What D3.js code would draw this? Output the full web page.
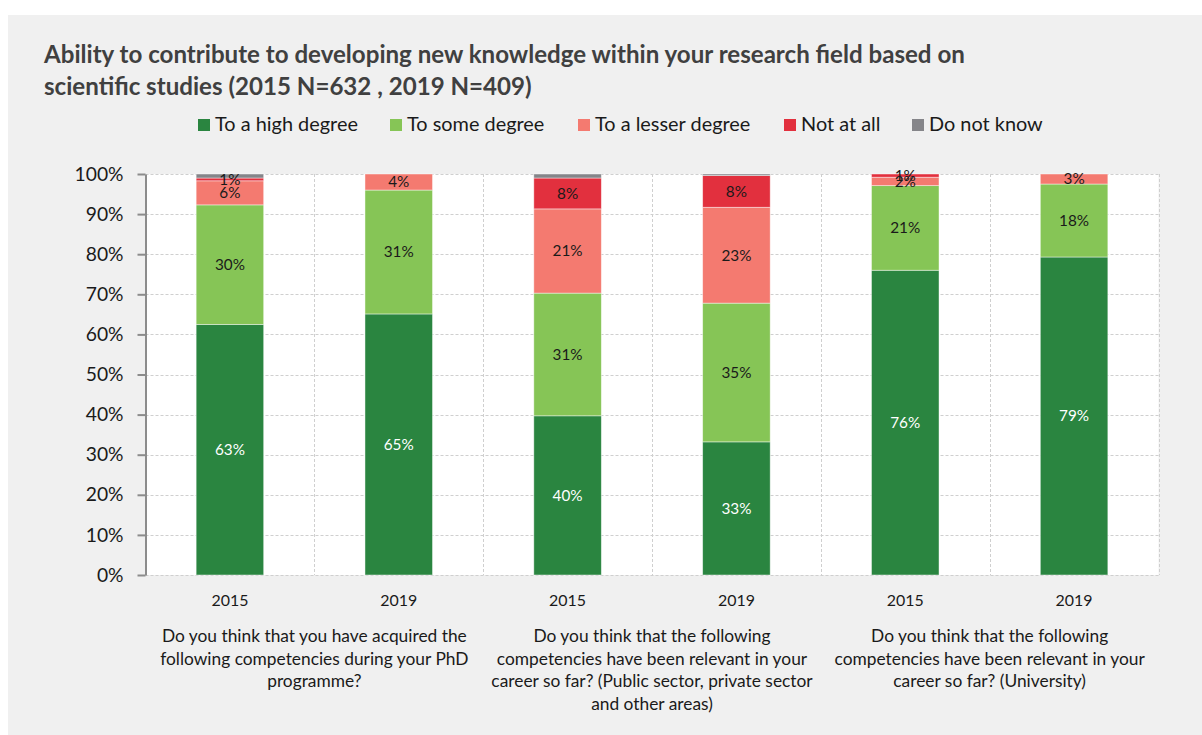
<!DOCTYPE html>
<html>
<head>
<meta charset="utf-8">
<script src="https://cdn.jsdelivr.net/npm/d3@7"></script>
<style>
  html, body { margin: 0; padding: 0; background: #ffffff; }
  svg { display: block; }
  text { font-family: Lato, "Open Sans", sans-serif; }
</style>
</head>
<body>
<svg id="chart" width="1202" height="735"></svg>
<script>
// ---------- DATA ----------
const titleLines = [
  "Ability to contribute to developing new knowledge within your research field based on",
  "scientific studies (2015 N=632 , 2019 N=409)"
];
const categories = ["2015", "2019", "2015", "2019", "2015", "2019"];
const questions = [
  ["Do you think that you have acquired the", "following competencies during your PhD", "programme?"],
  ["Do you think that the following", "competencies have been relevant in your", "career so far? (Public sector, private sector", "and other areas)"],
  ["Do you think that the following", "competencies have been relevant in your", "career so far? (University)"]
];
const seriesNames = ["To a high degree", "To some degree", "To a lesser degree", "Not at all", "Do not know"];
const seriesColors = ["#2a8540", "#86c556", "#f47a70", "#e2303e", "#858589"];

const highDegree   = [62.5, 65.1, 39.7, 33.2, 76.0, 79.3];
const someDegree   = [29.8, 30.9, 30.6, 34.6, 21.1, 18.2];
const lesserDegree = [ 6.0,  4.0, 21.0, 23.9,  2.1,  2.5];
const notAtAll     = [ 0.7,  0.0,  7.7,  7.9,  0.8,  0.0];
const doNotKnow    = [ 1.0,  0.0,  1.0,  0.4,  0.0,  0.0];

const highLabels   = [63, 65, 40, 33, 76, 79];
const someLabels   = [30, 31, 31, 35, 21, 18];
const lesserLabels = [6, 4, 21, 23, 2, 3];
const notLabels    = [1, null, 8, 8, 1, null];
const dkLabels     = [null, null, null, null, null, null];

const yTicks = [0, 10, 20, 30, 40, 50, 60, 70, 80, 90, 100];

// ---------- BUILD ----------
const seriesValues = [highDegree, someDegree, lesserDegree, notAtAll, doNotKnow];
const seriesLabels = [highLabels, someLabels, lesserLabels, notLabels, dkLabels];
const keys = seriesNames;
const rows = categories.map((c, i) => {
  const r = { idx: i };
  keys.forEach((k, s) => r[k] = seriesValues[s][i]);
  return r;
});
const stacked = d3.stack().keys(keys)(rows);

const svg = d3.select("#chart");

function fit(sel, target) {
  // scale font-size so the measured width matches the target width
  const node = sel.node();
  const fs = parseFloat(sel.attr("font-size"));
  const w = node.getComputedTextLength();
  return fs * target / w;
}

// background panel
svg.append("rect").attr("x", 8).attr("y", 15).attr("width", 1194).attr("height", 720).attr("fill", "#f0f0f0");

const plot = { left: 145.5, right: 1158.5, top: 174, bottom: 575 };
const x = d3.scaleBand().domain(d3.range(categories.length)).range([plot.left, plot.right]);
const y = d3.scaleLinear().domain([0, 100]).range([plot.bottom, plot.top]);
const barW = x.bandwidth() * 0.4;

svg.append("rect").attr("x", plot.left).attr("y", plot.top)
  .attr("width", plot.right - plot.left).attr("height", plot.bottom - plot.top).attr("fill", "#ffffff");

// gridlines
const grid = svg.append("g").attr("stroke", "#cfcfcf").attr("stroke-width", 1).attr("stroke-dasharray", "3,2");
grid.selectAll("line.h").data(yTicks).join("line")
  .attr("x1", plot.left).attr("x2", plot.right)
  .attr("y1", d => Math.round(y(d)) + 0.5).attr("y2", d => Math.round(y(d)) + 0.5);
grid.selectAll("line.v").data(d3.range(1, categories.length + 1)).join("line")
  .attr("x1", d => Math.round(plot.left + d * x.step()) + 0.5).attr("x2", d => Math.round(plot.left + d * x.step()) + 0.5)
  .attr("y1", plot.top).attr("y2", plot.bottom);

// bars
const layers = svg.append("g").selectAll("g").data(stacked).join("g")
  .attr("fill", (d, i) => seriesColors[i]);
layers.selectAll("rect").data(d => d).join("rect")
  .attr("x", d => x(d.data.idx) + (x.bandwidth() - barW) / 2)
  .attr("width", barW)
  .attr("y", d => y(d[1]))
  .attr("height", d => Math.max(0, y(d[0]) - y(d[1])))
  .attr("stroke", "#ffffff").attr("stroke-opacity", 0.55).attr("stroke-width", 0.8);

// bar labels
const labelG = svg.append("g");
const barLabelData = [];
stacked.forEach((layer, s) => {
  layer.forEach((d, i) => {
    const lab = seriesLabels[s][i];
    if (lab !== null) barLabelData.push({ s, i, lab, yc: (y(d[0]) + y(d[1])) / 2 });
  });
});
const bl = labelG.selectAll("text").data(barLabelData).join("text")
  .attr("x", d => x(d.i) + x.bandwidth() / 2)
  .attr("y", d => d.yc)
  .attr("dy", "0.35em")
  .attr("text-anchor", "middle")
  .attr("font-size", 16)
  .attr("fill", d => d.s === 0 ? "#ffffff" : "#1a1a1a")
  .text(d => d.lab + "%");
// fit bar label size to "30%" ≈ 30px
const blRef = bl.filter(d => d.s === 1 && d.i === 0);
const blSize = fit(blRef, 30);
bl.attr("font-size", blSize);

// y axis
const yAxis = svg.append("g").attr("transform", `translate(${plot.left},0)`)
  .call(d3.axisLeft(y).tickValues(yTicks).tickFormat(d => d + "%").tickSize(8).tickSizeOuter(0).tickPadding(14));
yAxis.select(".domain").attr("stroke", "#8c8c8c").attr("stroke-width", 2);
yAxis.selectAll(".tick line").attr("stroke", "#8c8c8c").attr("stroke-width", 2);
const yt = yAxis.selectAll(".tick text").attr("fill", "#1a1a1a").attr("font-family", "Lato").attr("font-size", 20);
const ytRef = yt.filter(d => d === 100);
yt.attr("font-size", fit(ytRef, 49));

// category labels
const cl = svg.append("g").selectAll("text").data(categories).join("text")
  .attr("x", (d, i) => x(i) + x.bandwidth() / 2)
  .attr("y", 606)
  .attr("text-anchor", "middle")
  .attr("font-size", 16)
  .attr("fill", "#1a1a1a")
  .text(d => d);
cl.attr("font-size", fit(cl.filter((d, i) => i === 0), 37));

// question labels
const qG = svg.append("g");
let qSize = 16;
questions.forEach((lines, g) => {
  const cx = (x(2 * g) + x(2 * g + 1) + x.bandwidth()) / 2;
  const t = qG.append("text").attr("text-anchor", "middle").attr("font-size", qSize).attr("fill", "#1a1a1a");
  lines.forEach((ln, k) => {
    t.append("tspan").attr("x", cx).attr("y", 642 + k * 22.5).text(ln);
  });
});
{
  const probe = qG.append("text").attr("font-size", 16).text(questions[0][0]);
  qSize = fit(probe, 305);
  probe.remove();
  qG.selectAll("text").attr("font-size", qSize);
}

// title
const tt = svg.append("g").selectAll("text").data(titleLines).join("text")
  .attr("x", 44)
  .attr("y", (d, i) => 63 + i * 32)
  .attr("font-size", 21)
  .attr("font-weight", "bold")
  .attr("fill", "#404040")
  .text(d => d);
tt.attr("font-size", fit(tt.filter((d, i) => i === 0), 921));

// legend
const legendSq = [198, 390, 578, 784, 912];
const legendW = [143, 137, 156, 78, 110];
const lg = svg.append("g");
const items = lg.selectAll("g").data(seriesNames).join("g");
items.append("rect")
  .attr("x", (d, i) => legendSq[i]).attr("y", 119).attr("width", 12).attr("height", 12)
  .attr("fill", (d, i) => seriesColors[i]);
const lt = items.append("text")
  .attr("x", (d, i) => legendSq[i] + 17)
  .attr("y", 131)
  .attr("font-size", 18)
  .attr("fill", "#1a1a1a")
  .text(d => d);
lt.attr("font-size", fit(lt.filter((d, i) => i === 0), 143));
</script>
</body>
</html>
